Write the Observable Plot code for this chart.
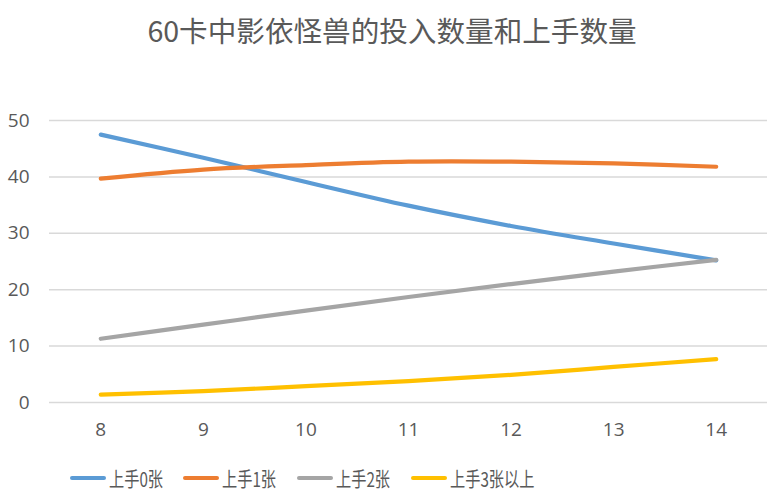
<!DOCTYPE html>
<html>
<head>
<meta charset="utf-8">
<script src="https://cdn.jsdelivr.net/npm/d3@7"></script>
<script src="https://cdn.jsdelivr.net/npm/@observablehq/plot@0.6"></script>
<style>
  html, body { margin: 0; padding: 0; background: #fff; }
  body { width: 784px; height: 504px; overflow: hidden; font-family: "Noto Sans CJK SC", "Noto Sans", sans-serif; color: #595959; }
  #title { height: 60px; line-height: 60px; text-align: center; font-size: 28.6px; color: #595959; }
  #legend { position: absolute; top: 462px; left: 0; width: 784px; height: 32px; }
  .item { position: absolute; top: 0; height: 32px; display: flex; align-items: center; font-size: 20px; color: #595959; white-space: nowrap; }
  .item span { display: inline-block; transform: scaleX(0.76); transform-origin: left center; }
  .sw { width: 36px; height: 4px; border-radius: 2px; margin-right: 3px; flex: none; }
  #chart svg text { font-size: 19px !important; font-family: "Open Sans", sans-serif !important; }
</style>
</head>
<body>
<div id="title">60卡中影依怪兽的投入数量和上手数量</div>
<div id="chart"></div>
<div id="legend"></div>
<script>
const counts = [8, 9, 10, 11, 12, 13, 14];
const seriesNames = ["上手0张", "上手1张", "上手2张", "上手3张以上"];
const hand0 = [47.5, 43.4, 39.1, 34.9, 31.3, 28.2, 25.2];
const hand1 = [39.7, 41.3, 42.1, 42.7, 42.7, 42.4, 41.8];
const hand2 = [11.3, 13.8, 16.3, 18.7, 21.0, 23.2, 25.3];
const hand3plus = [1.4, 2.0, 2.9, 3.8, 4.9, 6.3, 7.7];
const colors = ["#5B9BD5", "#ED7D31", "#A5A5A5", "#FFC000"];
const yTicks = [0, 10, 20, 30, 40, 50];

const seriesValues = [hand0, hand1, hand2, hand3plus];
const data = [];
seriesNames.forEach((name, i) => {
  counts.forEach((c, j) => data.push({series: name, count: c, value: seriesValues[i][j]}));
});

const chart = Plot.plot({
  width: 784,
  height: 390,
  marginTop: 60,
  marginBottom: 48,
  marginLeft: 49,
  marginRight: 17,
  style: {fontFamily: "'Open Sans', sans-serif", fontSize: "19px", color: "#595959", background: "#fff"},
  x: {domain: [7.5, 14.5], ticks: counts, tickFormat: d => String(d), label: null},
  y: {domain: [0, 50], ticks: yTicks, label: null},
  color: {domain: seriesNames, range: colors},
  marks: [
    Plot.ruleY(yTicks, {stroke: "#d9d9d9", strokeWidth: 1.5}),
    Plot.axisY(yTicks, {tickSize: 0, tickPadding: 20, fontSize: 19, fill: "#595959", label: null}),
    Plot.axisX(counts, {tickSize: 0, tickPadding: 20, fontSize: 19, fill: "#595959", label: null, tickFormat: d => String(d)}),
    Plot.line(data, {x: "count", y: "value", z: "series", stroke: "series", strokeWidth: 4.2, strokeLinecap: "round", strokeLinejoin: "round", curve: "catmull-rom"})
  ]
});
document.getElementById("chart").appendChild(chart);

const legend = document.getElementById("legend");
const lefts = [70, 183, 297, 411];
seriesNames.forEach((name, i) => {
  const it = document.createElement("div");
  it.className = "item";
  it.style.left = lefts[i] + "px";
  const sw = document.createElement("div");
  sw.className = "sw";
  sw.style.background = colors[i];
  const tx = document.createElement("span");
  tx.textContent = name;
  it.appendChild(sw);
  it.appendChild(tx);
  legend.appendChild(it);
});
</script>
</body>
</html>
